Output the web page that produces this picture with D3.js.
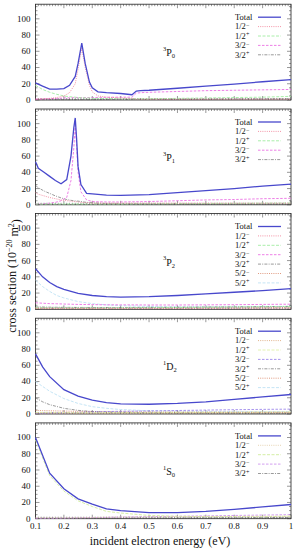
<!DOCTYPE html>
<html>
<head>
<meta charset="utf-8">
<script src="https://cdn.jsdelivr.net/npm/d3@7"></script>
<style>
  body { margin: 0; background: #fff; }
  svg { display: block; font-family: "Liberation Serif", "DejaVu Serif", serif; }
</style>
</head>
<body>
<svg id="chart" width="297" height="550"></svg>
<script>
// ---- data ----
const xTicks = [0.1, 0.2, 0.3, 0.4, 0.5, 0.6, 0.7, 0.8, 0.9, 1];
const yTicks = [0, 20, 40, 60, 80, 100];

// 3P0
const p0X = [0.1, 0.125, 0.15, 0.175, 0.2, 0.22, 0.24, 0.25, 0.263, 0.275, 0.29, 0.3, 0.32, 0.35, 0.4, 0.44, 0.455, 0.47, 0.5, 0.6, 0.7, 0.8, 0.9, 1.0];
const p0Total = [21, 17, 13.5, 13.5, 14, 18, 29, 45, 70, 45, 22, 15, 10, 9, 8, 6.5, 11, 11.5, 12, 14.5, 17, 19.5, 22.5, 25];
const p0Am = [1, 1.5, 2, 3, 5, 9, 20, 38, 64, 40, 18, 10, 5, 3.5, 2.5, 2, 1, 1, 1, 1, 1, 1, 1, 1];
const p0Ap = [18, 13, 9.5, 7, 5, 4, 3.5, 3, 3, 2.5, 2.5, 2, 2, 1.8, 1.5, 1.5, 1.5, 1.5, 1.5, 2, 2.5, 3, 3.5, 4.5];
const p0Bm = [1, 1.2, 1.5, 2, 2.5, 2.7, 3, 3, 3, 3, 3, 3, 3.2, 3.3, 3.5, 3.5, 8.5, 9, 9.5, 10.5, 11.5, 12, 12.5, 13];
const p0Bp = [0.5, 0.5, 0.5, 0.5, 0.5, 0.5, 0.5, 0.5, 0.5, 0.5, 0.5, 0.5, 0.5, 0.6, 0.6, 0.7, 0.7, 0.7, 0.8, 0.9, 1, 1.2, 1.3, 1.5];

// 3P1
const p1X = [0.1, 0.11, 0.13, 0.15, 0.17, 0.19, 0.21, 0.225, 0.235, 0.24, 0.245, 0.25, 0.26, 0.28, 0.3, 0.35, 0.4, 0.5, 0.6, 0.7, 0.8, 0.9, 1.0];
const p1Total = [53, 45, 40, 35, 30, 26, 31, 60, 95, 107, 80, 47, 25, 14, 13.5, 12, 11.5, 12.5, 15, 17.5, 20, 23, 25.5];
const p1Am = [15, 13, 11, 9, 7.5, 6, 5, 4.5, 4, 4, 3.8, 3.5, 3, 2.5, 2, 2, 2, 2, 2, 2, 2, 2, 2];
const p1Ap = [1, 1, 1, 1, 1, 1, 1, 1, 1, 1, 1, 1, 1, 1, 1, 1, 1, 1.2, 1.4, 1.6, 1.8, 2, 2.2];
const p1Bm = [1, 1.2, 1.5, 2, 3, 5, 9, 30, 70, 98, 72, 40, 16, 6, 4, 3.5, 3.5, 4, 5, 6, 6.5, 7.5, 8];
const p1Bp = [24, 21, 17, 14, 11, 8.5, 6.5, 5.5, 5, 4.8, 4.6, 4.5, 4, 3, 2.5, 1.5, 1.2, 1, 1, 1, 1, 1, 1];

// 3P2
const p2X = [0.1, 0.125, 0.15, 0.175, 0.2, 0.25, 0.3, 0.35, 0.4, 0.5, 0.6, 0.7, 0.8, 0.9, 1.0];
const p2Total = [50, 40, 33, 28, 24.5, 19.5, 17, 15.5, 15, 15.5, 17, 19, 21, 23, 25.5];
const p2Am = [1.5, 1.4, 1.3, 1.2, 1.2, 1.1, 1, 1, 1, 1, 1, 1, 1.1, 1.2, 1.3];
const p2Ap = [2, 2, 1.9, 1.8, 1.8, 1.7, 1.7, 1.7, 1.8, 2, 2.2, 2.5, 2.8, 3, 3.3];
const p2Bm = [8, 7.5, 7, 6.8, 6.5, 6, 5.8, 5.5, 5.5, 5.3, 5.3, 5.5, 5.7, 6, 6.3];
const p2Bp = [3, 2.8, 2.6, 2.5, 2.4, 2.3, 2.2, 2.2, 2.2, 2.3, 2.5, 2.8, 3, 3.3, 3.6];
const p2Cm = [1, 1, 1, 1, 1, 1, 1, 1.1, 1.2, 1.4, 1.6, 1.8, 2, 2.2, 2.4];
const p2Cp = [36, 28, 22, 17, 14, 9.5, 7, 5.5, 4.5, 3.5, 3, 3, 3, 3.2, 3.5];

// 1D2
const d2X = [0.1, 0.125, 0.15, 0.2, 0.25, 0.3, 0.35, 0.4, 0.5, 0.6, 0.7, 0.8, 0.9, 1.0];
const d2Total = [74, 58, 46, 30, 22, 17, 14, 12.5, 12, 13, 15, 18, 21, 24];
const d2Am = [1, 1, 1, 1, 1, 1, 1, 1, 1.1, 1.2, 1.3, 1.4, 1.5, 1.5];
const d2Ap = [2, 2, 2, 1.8, 1.7, 1.6, 1.6, 1.6, 1.7, 1.8, 2, 2.2, 2.4, 2.6];
const d2Bm = [1, 1, 1.2, 1.5, 2, 2.5, 3, 3.3, 3.8, 4.3, 4.8, 5.3, 5.7, 6];
const d2Bp = [20, 15, 11.5, 7, 4.5, 3, 2.3, 2, 1.5, 1.3, 1.2, 1.1, 1, 1];
const d2Cm = [4.5, 4.2, 4, 3.6, 3.3, 3, 2.8, 2.7, 2.5, 2.4, 2.3, 2.2, 2.2, 2.2];
const d2Cp = [40, 34, 28, 19, 13, 9, 7, 5.5, 4, 3.5, 3.2, 3, 3, 3];

// 1S0
const s0X = [0.1, 0.15, 0.2, 0.25, 0.3, 0.35, 0.4, 0.5, 0.6, 0.7, 0.8, 0.9, 1.0];
const s0Total = [100, 56, 37, 24.5, 18, 12, 10, 7.5, 7.5, 9, 11.5, 14.5, 17.5];
const s0Am = [1, 1, 1, 1.2, 1.5, 1.8, 2, 2.2, 2.4, 2.6, 2.8, 3, 3.2];
const s0Ap = [97, 53, 34, 22, 15, 9, 7, 4, 3, 2.5, 2.5, 2.5, 3];
const s0Bm = [0.5, 0.5, 0.7, 1, 1.3, 1.6, 2, 2.5, 3, 3.5, 4, 4.5, 5];
const s0Bp = [0.5, 0.5, 0.5, 0.5, 0.6, 0.7, 0.8, 0.9, 1, 1.1, 1.2, 1.4, 1.5];

// series styles
const styles = {
  total: { label: ["Total", ""], color: "#4848cc", dash: null, w: 1.3 },
  am: { label: ["1/2", "\u2212"], color: "#f07890", dash: "1,1.2", w: 0.8 },
  ap: { label: ["1/2", "+"], color: "#a0eca0", dash: "3,1.5", w: 0.9 },
  bm: { label: ["3/2", "\u2212"], color: "#e860e0", dash: "2.5,1.5", w: 0.8 },
  bp: { label: ["3/2", "+"], color: "#555555", dash: "3,1.2,1,1.2", w: 0.6 },
  cm: { label: ["5/2", "\u2212"], color: "#d88060", dash: "1,1.2", w: 0.8 },
  cp: { label: ["5/2", "+"], color: "#bfe2f4", dash: "3,1.5", w: 0.9 }
};

const panels = [
  { term: ["3", "P", "0"], x: p0X, series: { total: p0Total, am: p0Am, ap: p0Ap, bm: p0Bm, bp: p0Bp } },
  { term: ["3", "P", "1"], x: p1X, series: { total: p1Total, am: p1Am, ap: p1Ap, bm: p1Bm, bp: p1Bp } },
  { term: ["3", "P", "2"], x: p2X, series: { total: p2Total, am: p2Am, ap: p2Ap, bm: p2Bm, bp: p2Bp, cm: p2Cm, cp: p2Cp } },
  { term: ["1", "D", "2"], x: d2X, series: { total: d2Total, am: d2Am, ap: d2Ap, bm: d2Bm, bp: d2Bp, cm: d2Cm, cp: d2Cp },
    colors: { am: "#d8a070", ap: "#e0f0a8", bm: "#9078e8" } },
  { term: ["1", "S", "0"], x: s0X, series: { total: s0Total, am: s0Am, ap: s0Ap, bm: s0Bm, bp: s0Bp },
    colors: { am: "#e0c8a0", ap: "#d0ec9c", bm: "#c888ec" } }
];

// ---- layout ----
const svg = d3.select("#chart");
const left = 35.5, right = 291;
const bottoms = [100, 204.8, 309.3, 414, 518.7];
const panelH = 95.8;

const x = d3.scaleLinear().domain([0.1, 1]).range([left, right]);
const xMinor = d3.range(0.1, 1.0001, 0.01);
const yMinor = d3.range(0, 118, 5);

panels.forEach((p, i) => {
  const y = d3.scaleLinear().domain([0, 118]).range([bottoms[i], bottoms[i] - panelH]);
  const g = svg.append("g");

  // frame
  g.append("rect")
    .attr("x", left).attr("y", bottoms[i] - panelH)
    .attr("width", right - left).attr("height", panelH)
    .attr("fill", "none").attr("stroke", "#222").attr("stroke-width", 0.8);

  // ticks, inward, mirrored
  const tk = g.append("g").attr("stroke", "#333").attr("stroke-width", 0.5);
  xMinor.forEach(v => {
    const major = xTicks.some(t => Math.abs(t - v) < 1e-6);
    const len = major ? 4 : 2;
    tk.append("line").attr("x1", x(v)).attr("x2", x(v)).attr("y1", y(0)).attr("y2", y(0) - len);
    tk.append("line").attr("x1", x(v)).attr("x2", x(v)).attr("y1", y(118)).attr("y2", y(118) + len);
  });
  yMinor.forEach(v => {
    const len = v % 20 === 0 ? 4 : 2;
    tk.append("line").attr("y1", y(v)).attr("y2", y(v)).attr("x1", left).attr("x2", left + len);
    tk.append("line").attr("y1", y(v)).attr("y2", y(v)).attr("x1", right).attr("x2", right - len);
  });

  // y tick labels
  g.selectAll(".ytl").data(yTicks).join("text")
    .attr("x", left - 5).attr("y", d => y(d)).attr("dy", "0.33em")
    .attr("text-anchor", "end").attr("font-size", 9).attr("fill", "#111")
    .text(d => d);

  // curves
  const keys = Object.keys(p.series).reverse();
  keys.forEach(k => {
    const st = styles[k];
    const col = (p.colors && p.colors[k]) || st.color;
    const line = d3.line().x((d, j) => x(p.x[j])).y(d => y(d));
    g.append("path")
      .datum(p.series[k])
      .attr("d", line)
      .attr("fill", "none")
      .attr("stroke", col)
      .attr("stroke-width", st.w)
      .attr("stroke-dasharray", st.dash);
  });

  // legend
  const legKeys = Object.keys(p.series);
  const top = bottoms[i] - panelH;
  legKeys.forEach((k, j) => {
    const st = styles[k];
    const col = (p.colors && p.colors[k]) || st.color;
    const ly = top + 13 + j * 9.4;
    const t = g.append("text").attr("x", 235).attr("y", ly).attr("dy", "0.33em")
      .attr("font-size", 8.5).attr("fill", "#111");
    t.append("tspan").text(st.label[0]);
    if (st.label[1]) t.append("tspan").attr("dy", "-0.45em").attr("font-size", 6).text(st.label[1]);
    g.append("line").attr("x1", 258).attr("x2", 281).attr("y1", ly).attr("y2", ly)
      .attr("stroke", col).attr("stroke-width", st.w).attr("stroke-dasharray", st.dash);
  });

  // term label
  const tl = g.append("text").attr("x", 163).attr("y", y(56)).attr("font-size", 10).attr("fill", "#111");
  tl.append("tspan").attr("font-size", 6.5).attr("dy", "-0.55em").text(p.term[0]);
  tl.append("tspan").attr("dy", "0.55em").text(p.term[1]);
  tl.append("tspan").attr("font-size", 6.5).attr("dy", "0.3em").text(p.term[2]);
});

// x tick labels on bottom panel
svg.selectAll(".xtl").data(xTicks).join("text")
  .attr("x", d => x(d)).attr("y", 528.5)
  .attr("text-anchor", "middle").attr("font-size", 9).attr("fill", "#111")
  .text(d => d);

// axis titles
svg.append("text").attr("x", 160).attr("y", 545)
  .attr("text-anchor", "middle").attr("font-size", 12).attr("fill", "#111")
  .text("incident electron energy (eV)");

const yl = svg.append("text")
  .attr("transform", "translate(16,276) rotate(-90)")
  .attr("text-anchor", "middle").attr("font-size", 12).attr("fill", "#111");
yl.append("tspan").text("cross section (10");
yl.append("tspan").attr("dy", "-0.45em").attr("font-size", 8).text("\u221220");
yl.append("tspan").attr("dy", "0.45em").text(" m");
yl.append("tspan").attr("dy", "-0.45em").attr("font-size", 8).text("2");
yl.append("tspan").attr("dy", "0.45em").text(")");
</script>
</body>
</html>
